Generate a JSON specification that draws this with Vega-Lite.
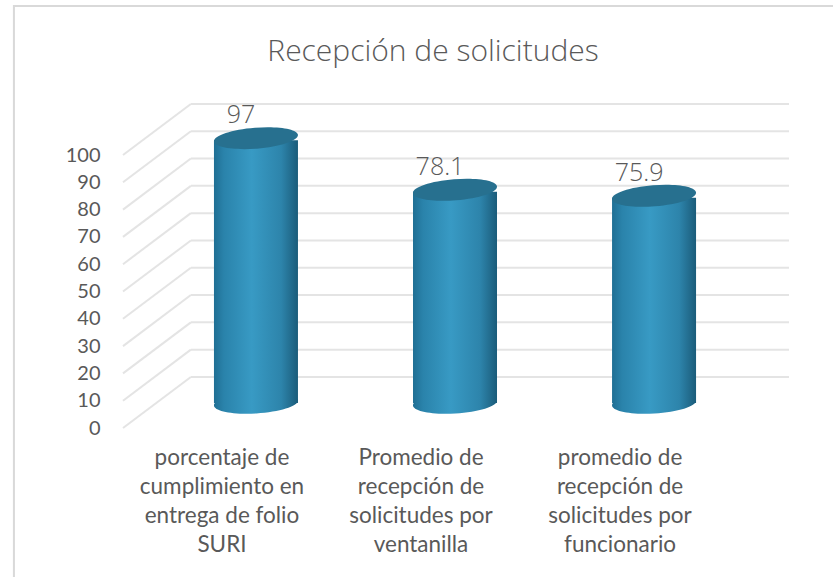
{
"$schema":"https://vega.github.io/schema/vega-lite/v6.json",
"width":666,"height":273,
"autosize":{"type":"none"},
"padding":{"left":123,"top":155,"right":44,"bottom":149},
"background":"white",
"view":{"stroke":null},
"config":{"axisY":{"tickCount":11,"labelOverlap":false,"title":null,"domain":false,"ticks":false,"grid":false,"labelFont":"Lato","labelFontSize":20,"labelColor":"#595959","labelPadding":23}},
"title":{"text":"Recepción de solicitudes","font":"Open Sans","fontSize":30,"fontWeight":300,"color":"#595959","anchor":"middle","dx":-23,"offset":-62},
"datasets":{
"bars":[
{"category":"porcentaje de\ncumplimiento en\nentrega de folio\nSURI","pos":0,"value":97},
{"category":"Promedio de\nrecepción  de\nsolicitudes por\nventanilla","pos":1,"value":78.1},
{"category":"promedio de\nrecepción de\nsolicitudes por\nfuncionario","pos":2,"value":75.9}],
"grid":[
{"v":0,"back":18.7},{"v":10,"back":28.7},{"v":20,"back":38.7},{"v":30,"back":48.7},{"v":40,"back":58.7},{"v":50,"back":68.7},{"v":60,"back":78.7},{"v":70,"back":88.7},{"v":80,"back":98.7},{"v":90,"back":108.7},{"v":100,"back":118.7}]
},
"layer":[
{"data":{"values":[{"frame":1}]},
 "mark":{"type":"rect","fill":null,"stroke":"#d9d9d9","strokeWidth":2,"clip":false},
 "encoding":{"x":{"datum":-1.216,"type":"quantitative","scale":{"domain":[-0.668,2.678],"nice":false,"zero":false,"padding":0},"axis":null},"x2":{"datum":2.95},"y":{"datum":154.6,"type":"quantitative","title":null,"scale":{"domain":[0,100],"nice":false,"zero":false,"padding":0}},"y2":{"datum":-62}}},
{"data":{"name":"grid"},
 "mark":{"type":"rule","color":"#e4e4e4","strokeWidth":2},
 "encoding":{"x":{"datum":-0.668,"type":"quantitative","axis":null},"x2":{"datum":-0.327},"y":{"field":"v","type":"quantitative","title":null},"y2":{"field":"back"}}},
{"data":{"name":"grid"},
 "mark":{"type":"rule","color":"#e4e4e4","strokeWidth":2},
 "encoding":{"x":{"datum":-0.327,"type":"quantitative","axis":null},"x2":{"datum":2.678},"y":{"field":"back","type":"quantitative","title":null}}},
{"data":{"name":"bars"},
 "mark":{"type":"point","filled":true,"opacity":1,"size":7056,"yOffset":-25,"shape":"M-1,0.06A1,0.25,-3.5,1,1,1,-0.06A1,0.25,-3.5,1,1,-1,0.06Z",
  "fill":{"gradient":"linear","x1":0,"y1":0,"x2":1,"y2":0,"stops":[{"offset":0,"color":"#1f6f94"},{"offset":0.12,"color":"#2a83ab"},{"offset":0.45,"color":"#389ac4"},{"offset":0.8,"color":"#2d84ab"},{"offset":1,"color":"#1b5c7a"}]}},
 "encoding":{"x":{"field":"pos","type":"quantitative","axis":null},"y":{"datum":0,"type":"quantitative","title":null}}},
{"data":{"name":"bars"},
 "mark":{"type":"bar","orient":"vertical","size":84,"yOffset":-23,"y2Offset":-25,
  "fill":{"gradient":"linear","x1":0,"y1":0,"x2":1,"y2":0,"stops":[{"offset":0,"color":"#1f6f94"},{"offset":0.12,"color":"#2a83ab"},{"offset":0.45,"color":"#389ac4"},{"offset":0.8,"color":"#2d84ab"},{"offset":1,"color":"#1b5c7a"}]}},
 "encoding":{"x":{"field":"pos","type":"quantitative","axis":null},"y":{"field":"value","type":"quantitative","title":null},"y2":{"datum":0}}},
{"data":{"name":"bars"},
 "mark":{"type":"point","filled":true,"opacity":1,"size":7056,"yOffset":-25,"color":"#27708f","shape":"M-1,0.08A1,0.25,-4.5,1,1,1,-0.08A1,0.25,-4.5,1,1,-1,0.08Z"},
 "encoding":{"x":{"field":"pos","type":"quantitative","axis":null},"y":{"field":"value","type":"quantitative","title":null}}},
{"data":{"name":"bars"},
 "mark":{"type":"text","font":"Open Sans","fontWeight":300,"fontSize":25,"color":"#595959","xOffset":-15,"yOffset":-48,"baseline":"middle"},
 "encoding":{"x":{"field":"pos","type":"quantitative","axis":null},"y":{"field":"value","type":"quantitative","title":null},"text":{"field":"value","type":"quantitative"}}},
{"data":{"name":"bars"},
 "mark":{"type":"text","font":"Lato","fontSize":22.5,"color":"#595959","xOffset":-34,"yOffset":30,"baseline":"middle","lineBreak":"\n","lineHeight":29},
 "encoding":{"x":{"field":"pos","type":"quantitative","axis":null},"y":{"datum":0,"type":"quantitative","title":null},"text":{"field":"category"}}}
]
}
